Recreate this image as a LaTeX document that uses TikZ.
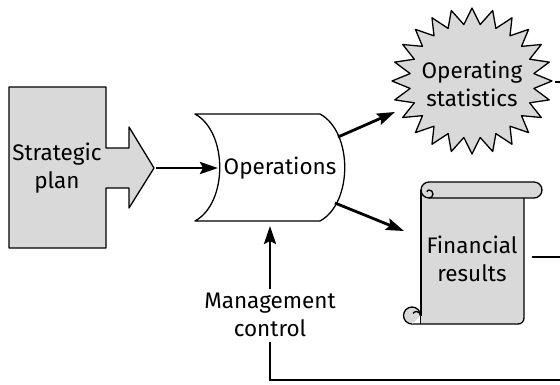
\documentclass[tikz,border=0pt]{standalone}
\usepackage{fontspec}
\setmainfont{Fira Sans}
\usetikzlibrary{arrows.meta}
\definecolor{shapegray}{HTML}{D9D9D9}
\tikzset{
  lbl/.style={align=center, inner sep=0pt, font=\fontsize{22.5}{27.5}\selectfont},
  outline/.style={draw=black, line width=1.3pt, line join=round},
  conn/.style={line width=2.8pt, -{Stealth[length=18pt,width=12pt,inset=3pt]}},
  plainconn/.style={line width=2.8pt}
}
\begin{document}
\begin{tikzpicture}[x=1pt,y=-1pt]
\useasboundingbox (0,0) rectangle (560,384);
% Strategic plan
\filldraw[outline, fill=shapegray] (9,87) -- (106,87) -- (106,148) -- (129,148) -- (129,127) -- (154,168) -- (129,208) -- (129,188) -- (106,188) -- (106,248) -- (9,248) -- cycle;
\node[lbl] (plan) at (57,168) {Strategic\\plan};
\coordinate (plan-tip) at (156,168);
% Operations
\filldraw[outline, fill=white] (195,114) -- (320,114) .. controls (353,132) and (353,203) .. (320,221) -- (195,221) .. controls (228,203) and (228,132) .. (195,114) -- cycle;
\node[lbl] (ops) at (280,168) {Operations};
\coordinate (ops-in) at (218,168);
\coordinate (ops-ne) at (338,137);
\coordinate (ops-se) at (335,203);
\coordinate (ops-s) at (270,226);
% Operating statistics starburst
\filldraw[outline, fill=shapegray] (472,8)
  \foreach \i [evaluate=\i as \r using {mod(\i,2)==0 ? 1 : 0.78}] in {1,...,47} { -- ({472+80*\r*cos(90+7.5*\i)},{81-73*\r*sin(90+7.5*\i)}) } -- cycle;
\node[lbl] (stats) at (472,84) {Operating\\statistics};
\coordinate (stats-in) at (395,112);
\coordinate (stats-out) at (555,82);
\coordinate (stats-r) at (560,82);
% Financial results scroll
\fill[shapegray] (421,190) -- (421,324) -- (518,324) -- (524,318) -- (524,190) -- cycle;
\filldraw[outline, fill=shapegray] (429,182) -- (534,182) arc[start angle=90,end angle=-90,radius=8pt] -- (429,198) arc[start angle=270,end angle=90,radius=8pt] -- cycle;
\draw[outline] (429,198) arc[start angle=270,end angle=450,radius=4pt] arc[start angle=90,end angle=180,radius=2pt];
\draw[outline] (421,190) -- (421,316);
\draw[outline, rounded corners=6pt] (524,198) -- (524,324) -- (412,324);
\filldraw[outline, fill=shapegray] (412,324) arc[start angle=270,end angle=90,radius=8.5pt] arc[start angle=90,end angle=0,radius=8.5pt];
\draw[outline] (420.5,315.5) arc[start angle=0,end angle=150,radius=4pt];
\draw[outline] (420.5,315.5) -- (420.5,324);
\node[lbl] (fin) at (472,259) {Financial\\results};
\coordinate (fin-in) at (404,231);
\coordinate (fin-out) at (532,257);
\coordinate (fin-r) at (560,257);
% Management control
\node[lbl] (mgmt) at (270,315) {Management\\control};
\coordinate (mgmt-corner) at (270,380);
\coordinate (bottom-r) at (560,380);
% connectors
\draw[conn] (plan-tip) -- (ops-in);
\draw[conn] (ops-ne) -- (stats-in);
\draw[conn] (ops-se) -- (fin-in);
\draw[conn] ([yshift=4pt]mgmt.north) -- (ops-s);
\draw[plainconn] ([yshift=-5pt]mgmt.south) -- (mgmt-corner) -- (bottom-r);
\draw[plainconn] (fin-out) -- (fin-r);
\draw[plainconn] (stats-out) -- (stats-r);
\end{tikzpicture}
\end{document}
